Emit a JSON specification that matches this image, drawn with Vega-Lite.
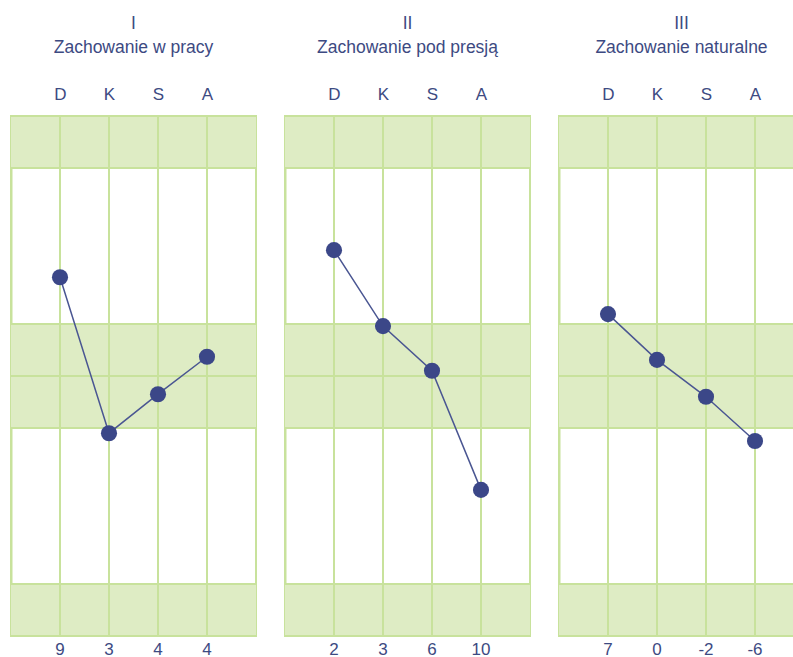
{
  "$schema": "https://vega.github.io/schema/vega-lite/v6.json",
  "padding": {"left": 9, "top": 13, "right": 0, "bottom": 0},
  "background": "white",
  "spacing": 25,
  "config": {
    "font": "Liberation Sans",
    "view": {"stroke": "#c8e29c", "strokeWidth": 2},
    "title": {"fontSize": 17.5, "font": "Liberation Sans", "fontWeight": "normal", "color": "#3d4a82", "lineHeight": 24, "offset": 29, "anchor": "middle"},
    "axisTop": {"domain": false, "ticks": false, "tickSize": 0, "grid": false, "labelPadding": 13, "labelFontSize": 17, "labelColor": "#3d4a82", "labelFont": "Liberation Sans", "labelAngle": 0},
    "axisLeft": {"domain": true, "domainColor": "#c8e29c", "domainWidth": 2, "ticks": false, "tickSize": 0, "labels": false, "grid": false, "zindex": 1}
  },
  "datasets": {
    "scores": [
      {"panel": "I", "letter": "D", "pos": 6.9, "score": "9"},
      {"panel": "I", "letter": "K", "pos": 3.9, "score": "3"},
      {"panel": "I", "letter": "S", "pos": 4.65, "score": "4"},
      {"panel": "I", "letter": "A", "pos": 5.37, "score": "4"},
      {"panel": "II", "letter": "D", "pos": 7.42, "score": "2"},
      {"panel": "II", "letter": "K", "pos": 5.96, "score": "3"},
      {"panel": "II", "letter": "S", "pos": 5.1, "score": "6"},
      {"panel": "II", "letter": "A", "pos": 2.81, "score": "10"},
      {"panel": "III", "letter": "D", "pos": 6.19, "score": "7"},
      {"panel": "III", "letter": "K", "pos": 5.31, "score": "0"},
      {"panel": "III", "letter": "S", "pos": 4.6, "score": "-2"},
      {"panel": "III", "letter": "A", "pos": 3.75, "score": "-6"}
    ],
    "bands": [
      {"from": 9, "to": 10},
      {"from": 4, "to": 6},
      {"from": 0, "to": 1}
    ],
    "levels": [
      {"level": 0}, {"level": 1}, {"level": 4}, {"level": 5}, {"level": 6}, {"level": 9}, {"level": 10}
    ]
  },
  "hconcat": [
    {
      "width": 245, "height": 520,
      "title": {"text": ["I", "Zachowanie w pracy"]},
      "layer": [
        {"data": {"name": "bands"}, "mark": {"type": "rect", "color": "#deecc4"},
         "encoding": {"y": {"field": "from", "type": "quantitative", "scale": {"domain": [0, 10], "nice": false, "zero": false}, "axis": {"orient": "left"}, "title": null}, "y2": {"field": "to"}}},
        {"data": {"name": "levels"}, "mark": {"type": "rule", "color": "#c8e29c", "strokeWidth": 2},
         "encoding": {"y": {"field": "level", "type": "quantitative", "axis": {"orient": "left"}, "title": null}}},
        {"data": {"name": "scores"}, "transform": [{"filter": "datum.panel == 'I'"}], "mark": {"type": "rule", "color": "#c8e29c", "strokeWidth": 2},
         "encoding": {"x": {"field": "letter", "type": "nominal", "sort": ["D", "K", "S", "A"], "scale": {"type": "point", "padding": 1}, "axis": {"orient": "top"}, "title": null}}},
        {"data": {"name": "scores"}, "transform": [{"filter": "datum.panel == 'I'"}], "mark": {"type": "line", "color": "#4a5692", "strokeWidth": 1.5},
         "encoding": {"x": {"field": "letter", "type": "nominal", "sort": ["D", "K", "S", "A"], "axis": {"orient": "top"}, "title": null}, "y": {"field": "pos", "type": "quantitative", "axis": {"orient": "left"}, "title": null}, "order": {"value": null}}},
        {"data": {"name": "scores"}, "transform": [{"filter": "datum.panel == 'I'"}], "mark": {"type": "circle", "size": 260, "color": "#3b4788", "opacity": 1},
         "encoding": {"x": {"field": "letter", "type": "nominal", "sort": ["D", "K", "S", "A"], "axis": {"orient": "top"}, "title": null}, "y": {"field": "pos", "type": "quantitative", "axis": {"orient": "left"}, "title": null}}},
        {"data": {"name": "scores"}, "transform": [{"filter": "datum.panel == 'I'"}], "mark": {"type": "text", "baseline": "top", "dy": 6, "fontSize": 17, "color": "#3d4a82", "font": "Liberation Sans"},
         "encoding": {"x": {"field": "letter", "type": "nominal", "sort": ["D", "K", "S", "A"], "axis": {"orient": "top"}, "title": null}, "y": {"datum": 0, "axis": {"orient": "left"}, "title": null}, "text": {"field": "score"}}}
      ]
    },
    {
      "width": 245, "height": 520,
      "title": {"text": ["II", "Zachowanie pod presją"]},
      "layer": [
        {"data": {"name": "bands"}, "mark": {"type": "rect", "color": "#deecc4"},
         "encoding": {"y": {"field": "from", "type": "quantitative", "scale": {"domain": [0, 10], "nice": false, "zero": false}, "axis": {"orient": "left"}, "title": null}, "y2": {"field": "to"}}},
        {"data": {"name": "levels"}, "mark": {"type": "rule", "color": "#c8e29c", "strokeWidth": 2},
         "encoding": {"y": {"field": "level", "type": "quantitative", "axis": {"orient": "left"}, "title": null}}},
        {"data": {"name": "scores"}, "transform": [{"filter": "datum.panel == 'II'"}], "mark": {"type": "rule", "color": "#c8e29c", "strokeWidth": 2},
         "encoding": {"x": {"field": "letter", "type": "nominal", "sort": ["D", "K", "S", "A"], "scale": {"type": "point", "padding": 1}, "axis": {"orient": "top"}, "title": null}}},
        {"data": {"name": "scores"}, "transform": [{"filter": "datum.panel == 'II'"}], "mark": {"type": "line", "color": "#4a5692", "strokeWidth": 1.5},
         "encoding": {"x": {"field": "letter", "type": "nominal", "sort": ["D", "K", "S", "A"], "axis": {"orient": "top"}, "title": null}, "y": {"field": "pos", "type": "quantitative", "axis": {"orient": "left"}, "title": null}, "order": {"value": null}}},
        {"data": {"name": "scores"}, "transform": [{"filter": "datum.panel == 'II'"}], "mark": {"type": "circle", "size": 260, "color": "#3b4788", "opacity": 1},
         "encoding": {"x": {"field": "letter", "type": "nominal", "sort": ["D", "K", "S", "A"], "axis": {"orient": "top"}, "title": null}, "y": {"field": "pos", "type": "quantitative", "axis": {"orient": "left"}, "title": null}}},
        {"data": {"name": "scores"}, "transform": [{"filter": "datum.panel == 'II'"}], "mark": {"type": "text", "baseline": "top", "dy": 6, "fontSize": 17, "color": "#3d4a82", "font": "Liberation Sans"},
         "encoding": {"x": {"field": "letter", "type": "nominal", "sort": ["D", "K", "S", "A"], "axis": {"orient": "top"}, "title": null}, "y": {"datum": 0, "axis": {"orient": "left"}, "title": null}, "text": {"field": "score"}}}
      ]
    },
    {
      "width": 245, "height": 520,
      "title": {"text": ["III", "Zachowanie naturalne"]},
      "layer": [
        {"data": {"name": "bands"}, "mark": {"type": "rect", "color": "#deecc4"},
         "encoding": {"y": {"field": "from", "type": "quantitative", "scale": {"domain": [0, 10], "nice": false, "zero": false}, "axis": {"orient": "left"}, "title": null}, "y2": {"field": "to"}}},
        {"data": {"name": "levels"}, "mark": {"type": "rule", "color": "#c8e29c", "strokeWidth": 2},
         "encoding": {"y": {"field": "level", "type": "quantitative", "axis": {"orient": "left"}, "title": null}}},
        {"data": {"name": "scores"}, "transform": [{"filter": "datum.panel == 'III'"}], "mark": {"type": "rule", "color": "#c8e29c", "strokeWidth": 2},
         "encoding": {"x": {"field": "letter", "type": "nominal", "sort": ["D", "K", "S", "A"], "scale": {"type": "point", "padding": 1}, "axis": {"orient": "top"}, "title": null}}},
        {"data": {"name": "scores"}, "transform": [{"filter": "datum.panel == 'III'"}], "mark": {"type": "line", "color": "#4a5692", "strokeWidth": 1.5},
         "encoding": {"x": {"field": "letter", "type": "nominal", "sort": ["D", "K", "S", "A"], "axis": {"orient": "top"}, "title": null}, "y": {"field": "pos", "type": "quantitative", "axis": {"orient": "left"}, "title": null}, "order": {"value": null}}},
        {"data": {"name": "scores"}, "transform": [{"filter": "datum.panel == 'III'"}], "mark": {"type": "circle", "size": 260, "color": "#3b4788", "opacity": 1},
         "encoding": {"x": {"field": "letter", "type": "nominal", "sort": ["D", "K", "S", "A"], "axis": {"orient": "top"}, "title": null}, "y": {"field": "pos", "type": "quantitative", "axis": {"orient": "left"}, "title": null}}},
        {"data": {"name": "scores"}, "transform": [{"filter": "datum.panel == 'III'"}], "mark": {"type": "text", "baseline": "top", "dy": 6, "fontSize": 17, "color": "#3d4a82", "font": "Liberation Sans"},
         "encoding": {"x": {"field": "letter", "type": "nominal", "sort": ["D", "K", "S", "A"], "axis": {"orient": "top"}, "title": null}, "y": {"datum": 0, "axis": {"orient": "left"}, "title": null}, "text": {"field": "score"}}}
      ]
    }
  ]
}
